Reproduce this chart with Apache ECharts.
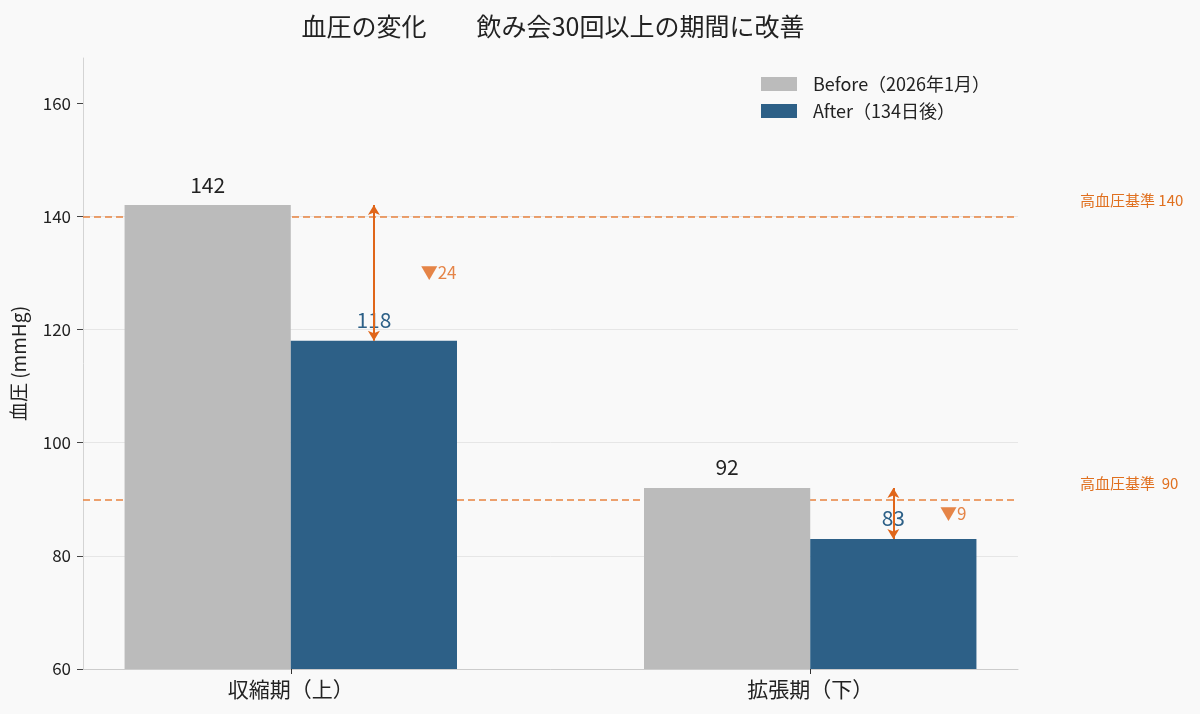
<!DOCTYPE html>
<html>
<head>
<meta charset="utf-8">
<script src="https://cdn.jsdelivr.net/npm/echarts@6/dist/echarts.min.js"></script>
<style>
html,body{margin:0;padding:0;background:#f9f9f9;}
#c{width:1200px;height:714px;}
</style>
</head>
<body>
<div id="c"></div>
<script>
const categories = ['収縮期（上）', '拡張期（下）'];
const beforeValues = [142, 92];
const afterValues = [118, 83];
const thresholds = [140, 90];
const thresholdLabels = ['高血圧基準 140', '高血圧基準  90'];
const seriesNames = ['Before（2026年1月）', 'After（134日後）'];
const yTicks = [60, 80, 100, 120, 140, 160];
const groupPositions = [0, 1];

const BAR = 0.32;
const FONT = '"Noto Sans CJK JP", "Noto Sans", sans-serif';
const ORANGE = '#e0661a';

const chart = echarts.init(document.getElementById('c'));

const arrowLines = groupPositions.map((g, i) => [
  { coord: [g + BAR / 2, beforeValues[i]], symbol: 'arrow' },
  { coord: [g + BAR / 2, afterValues[i]], symbol: 'arrow' }
]);
const diffPoints = groupPositions.map((g, i) => ({
  value: [g + BAR / 2 + 0.09, (beforeValues[i] + afterValues[i]) / 2],
  diff: beforeValues[i] - afterValues[i]
}));

chart.setOption({
  backgroundColor: '#f9f9f9',
  animation: false,
  textStyle: { fontFamily: FONT },
  title: {
    text: '血圧の変化　　飲み会30回以上の期間に改善',
    left: 548, textAlign: 'center', top: 9,
    textStyle: { fontFamily: FONT, fontSize: 25, fontWeight: 'normal', color: '#222' }
  },
  legend: {
    orient: 'vertical', left: 756, top: 70,
    itemWidth: 36, itemHeight: 14, itemGap: 9,
    icon: 'rect',
    textStyle: { fontFamily: FONT, fontSize: 18, lineHeight: 18, color: '#222', padding: [0, 0, 0, 11] },
    data: seriesNames
  },
  grid: { left: 83, right: 182, top: 58, bottom: 45, containLabel: false },
  xAxis: {
    type: 'value', min: -0.4, max: 1.4,
    axisLine: { show: true, onZero: false, lineStyle: { color: '#cccccc' } },
    axisTick: { show: true, customValues: groupPositions, length: 5, lineStyle: { color: '#333' } },
    axisLabel: {
      customValues: groupPositions,
      formatter: v => categories[groupPositions.indexOf(Math.round(v))] || '',
      fontFamily: FONT, fontSize: 21, color: '#222', margin: 10
    },
    splitLine: { show: false }
  },
  yAxis: {
    type: 'value', min: 60, max: 168, interval: 20,
    name: '血圧 (mmHg)', nameLocation: 'middle', nameGap: 55,
    nameTextStyle: { fontFamily: FONT, fontSize: 19, color: '#222' },
    axisLine: { show: true, onZero: false, lineStyle: { color: '#d4d4d4' } },
    axisTick: { show: true, customValues: yTicks, length: 6, lineStyle: { color: '#444' } },
    axisLabel: { customValues: yTicks, fontFamily: FONT, fontSize: 17, color: '#222', margin: 12 },
    splitLine: { show: true, showMaxLine: false, lineStyle: { color: '#e6e6e6' } }
  },
  series: [
    {
      name: seriesNames[0], type: 'bar',
      data: groupPositions.map((g, i) => [g, beforeValues[i]]),
      barWidth: '32%', barGap: '0%',
      itemStyle: { color: '#bbbbbb' },
      label: { show: true, position: 'top', distance: 10, fontSize: 21, color: '#222', fontFamily: FONT,
               formatter: p => p.value[1] },
      markLine: {
        silent: true, z: 1, symbol: ['none', 'none'],
        lineStyle: { color: '#e8833f', type: [7, 4], width: 1.5 },
        label: {
          show: true, position: 'end', distance: 62, offset: [0, -16],
          fontFamily: FONT, fontSize: 15, color: '#e0701f',
          formatter: p => thresholdLabels[p.dataIndex]
        },
        data: thresholds.map(t => ({ yAxis: t }))
      }
    },
    {
      name: seriesNames[1], type: 'bar',
      data: groupPositions.map((g, i) => [g, afterValues[i]]),
      barWidth: '32%', barGap: '0%',
      itemStyle: { color: '#2d6087' },
      label: { show: true, position: 'top', distance: 10, fontSize: 21, color: '#2d6087', fontFamily: FONT,
               formatter: p => p.value[1] }
    },
    {
      name: 'diff', type: 'scatter', symbolSize: 0, z: 7,
      data: diffPoints,
      label: {
        show: true, position: 'right', distance: 0,
        fontFamily: FONT, fontSize: 17, color: ORANGE,
        formatter: p => '▼' + p.data.diff
      },
      markLine: {
        silent: true, z: 6, symbolSize: [9, 10],
        lineStyle: { color: ORANGE, type: 'solid', width: 2 },
        label: { show: false },
        data: arrowLines
      }
    }
  ]
});
</script>
</body>
</html>
